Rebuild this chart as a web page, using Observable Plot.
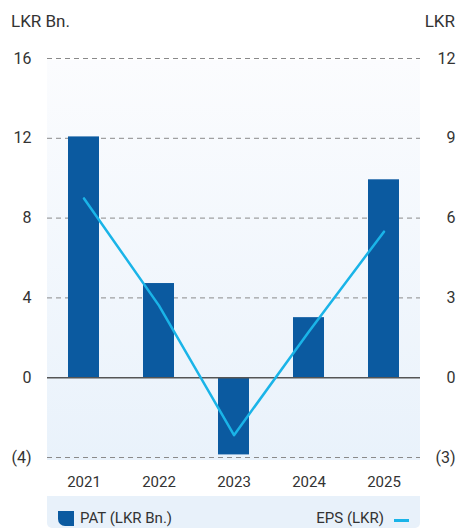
<!DOCTYPE html>
<html>
<head>
<meta charset="utf-8">
<script src="https://cdn.jsdelivr.net/npm/d3@7"></script>
<script src="https://cdn.jsdelivr.net/npm/@observablehq/plot@0.6"></script>
<style>
  html, body { margin: 0; padding: 0; background: #fff; }
  body { width: 459px; height: 529px; position: relative; overflow: hidden; font-family: Roboto, "DejaVu Sans", sans-serif; color: #333; }
  .unit { position: absolute; top: 11px; font-size: 17px; color: #333; }
  #bg { position: absolute; left: 47px; top: 60px; width: 373px; height: 400px;
        background: linear-gradient(to bottom, #fbfcfe 0%, #f4f8fd 40%, #e9f2fb 100%); }
  #chart { position: absolute; left: 0; top: 40px; }
  #legend { position: absolute; left: 47px; top: 496px; width: 373px; height: 32px; background: #e8f1fa;
            border-radius: 0 0 5px 5px; font-size: 15px; color: #333; }
  .sw { position: absolute; left: 11px; top: 15px; width: 16px; height: 15px; background: #0b5aa0; border-radius: 0 0 0 7px; }
  .lt { position: absolute; top: 14px; line-height: 17px; }
  .ln { position: absolute; left: 347px; top: 23px; width: 15px; height: 3px; background: #1ab4e8; }
</style>
</head>
<body>
<div class="unit" style="left:11px">LKR Bn.</div>
<div class="unit" style="right:4px">LKR</div>
<div id="bg"></div>
<div id="chart"></div>
<div id="legend">
  <div class="sw"></div>
  <div class="lt" style="left:33px">PAT (LKR Bn.)</div>
  <div class="lt" style="right:36px">EPS (LKR)</div>
  <div class="ln"></div>
</div>
<script>
const years = ["2021", "2022", "2023", "2024", "2025"];
const pat = [12.07, 4.72, -3.87, 3.01, 9.92];
const eps = [6.74, 2.71, -2.16, 1.74, 5.49];
const leftTicks = [-4, 0, 4, 8, 12, 16];
const rightTicks = [-3, 0, 3, 6, 9, 12];
const ratio = 4 / 3; // PAT units per EPS unit (right axis alignment)

const fmt = d => d < 0 ? `(${-d})` : `${d}`;
const rows = years.map((y, i) => ({year: y, pat: pat[i], eps: eps[i]}));

const plot = Plot.plot({
  width: 459,
  height: 456,
  marginTop: 18,
  marginBottom: 39,
  marginLeft: 47,
  marginRight: 39,
  style: {background: "transparent", fontFamily: "Roboto, 'DejaVu Sans', sans-serif", color: "#333"},
  x: {type: "band", domain: years, range: [44.5, 422.5], paddingInner: 0.59, paddingOuter: 0.295, label: null},
  y: {domain: [-4, 16], label: null},
  marks: [
    Plot.ruleY(leftTicks.filter(d => d !== 0), {stroke: "#8a8a8a", strokeDasharray: "5,4", strokeWidth: 1}),
    Plot.barY(rows, {x: "year", y: "pat", fill: "#0b5aa0"}),
    Plot.ruleY([0], {stroke: "#555", strokeWidth: 1.5}),
    Plot.line(rows, {x: "year", y: d => d.eps * ratio, stroke: "#1ab4e8", strokeWidth: 2.5}),
    Plot.axisY(leftTicks, {tickSize: 0, tickPadding: 16, tickFormat: fmt, fontSize: 16, label: null}),
    Plot.text(rightTicks, {y: d => d * ratio, text: fmt, frameAnchor: "right", dx: 35, textAnchor: "end", fontSize: 16, fill: "#333"}),
    Plot.axisX({tickSize: 0, tickPadding: 19, fontSize: 15, label: null})
  ]
});
document.getElementById("chart").appendChild(plot);
</script>
</body>
</html>
